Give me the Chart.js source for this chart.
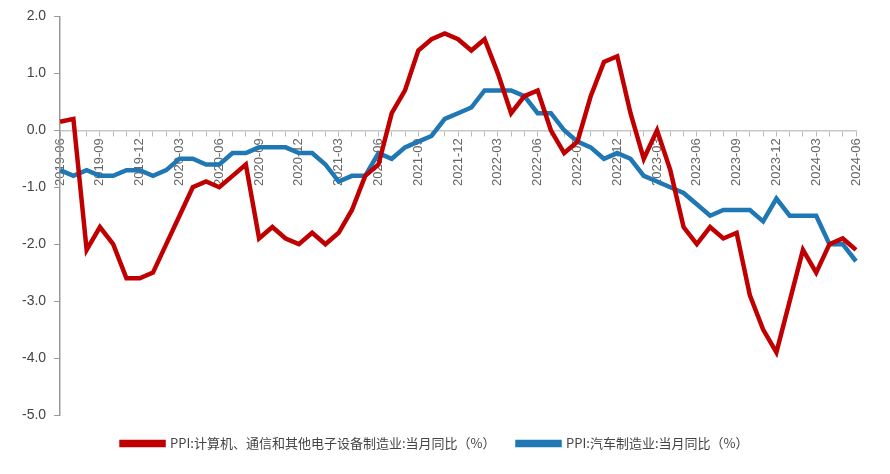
<!DOCTYPE html><html><head><meta charset="utf-8">
<script src="https://cdn.jsdelivr.net/npm/chart.js@4"></script>
<style>body{margin:0;background:#fff}#w{width:890px;height:474px}</style></head><body><div id="w"><canvas id="c"></canvas></div>
<script>
const months=[];for(let y=2019,m=6;y<2024||(y===2024&&m<=6);){months.push(y+'-'+String(m).padStart(2,'0'));m++;if(m>12){m=1;y++;}}
const redName='PPI:计算机、通信和其他电子设备制造业:当月同比（%）';
const blueName='PPI:汽车制造业:当月同比（%）';
const redVals=[0.15,0.2,-2.1,-1.7,-2.0,-2.6,-2.6,-2.5,-2.0,-1.5,-1.0,-0.9,-1.0,-0.8,-0.6,-1.9,-1.7,-1.9,-2.0,-1.8,-2.0,-1.8,-1.4,-0.8,-0.6,0.3,0.7,1.4,1.6,1.7,1.6,1.4,1.6,1.0,0.3,0.6,0.7,0.0,-0.4,-0.2,0.6,1.2,1.3,0.3,-0.5,0.0,-0.7,-1.7,-2.0,-1.7,-1.9,-1.8,-2.9,-3.5,-3.9,-3.0,-2.1,-2.5,-2.0,-1.9,-2.1];
const blueVals=[-0.7,-0.8,-0.7,-0.8,-0.8,-0.7,-0.7,-0.8,-0.7,-0.5,-0.5,-0.6,-0.6,-0.4,-0.4,-0.3,-0.3,-0.3,-0.4,-0.4,-0.6,-0.9,-0.8,-0.8,-0.4,-0.5,-0.3,-0.2,-0.1,0.2,0.3,0.4,0.7,0.7,0.7,0.6,0.3,0.3,0.0,-0.2,-0.3,-0.5,-0.4,-0.5,-0.8,-0.9,-1.0,-1.1,-1.3,-1.5,-1.4,-1.4,-1.4,-1.6,-1.2,-1.5,-1.5,-1.5,-2.0,-2.0,-2.3];
const yMin=-5,yMax=2;
new Chart(document.getElementById('c'),{type:'line',data:{labels:months,datasets:[
{label:redName,data:redVals,borderColor:'#C00000',backgroundColor:'#C00000',borderWidth:4.5,pointRadius:0,tension:0},
{label:blueName,data:blueVals,borderColor:'#1F77B4',backgroundColor:'#1F77B4',borderWidth:4.5,pointRadius:0,tension:0}]},
options:{responsive:true,maintainAspectRatio:false,animation:false,
layout:{padding:{left:14,right:34,top:16,bottom:14}},
plugins:{legend:{position:'bottom',labels:{boxWidth:42,boxHeight:3,padding:22,color:'#444',font:{family:'Noto Sans CJK SC',size:13}}},tooltip:{enabled:false}},
scales:{x:{position:{y:0},offset:false,grid:{drawOnChartArea:false,tickLength:5,color:'#bbb'},border:{color:'#c8c8c8',width:1.5},
ticks:{autoSkip:false,minRotation:90,maxRotation:90,color:'#666',font:{family:'Liberation Sans',size:13},callback:(v,i)=>i%3===0?months[i]:''}},
y:{min:yMin,max:yMax,grid:{drawOnChartArea:false,tickLength:6,color:'#999'},border:{color:'#999',width:1.5},
ticks:{stepSize:1,padding:8,color:'#444',font:{family:'Liberation Sans',size:14},callback:v=>v.toFixed(1)}}}}});
</script></body></html>
